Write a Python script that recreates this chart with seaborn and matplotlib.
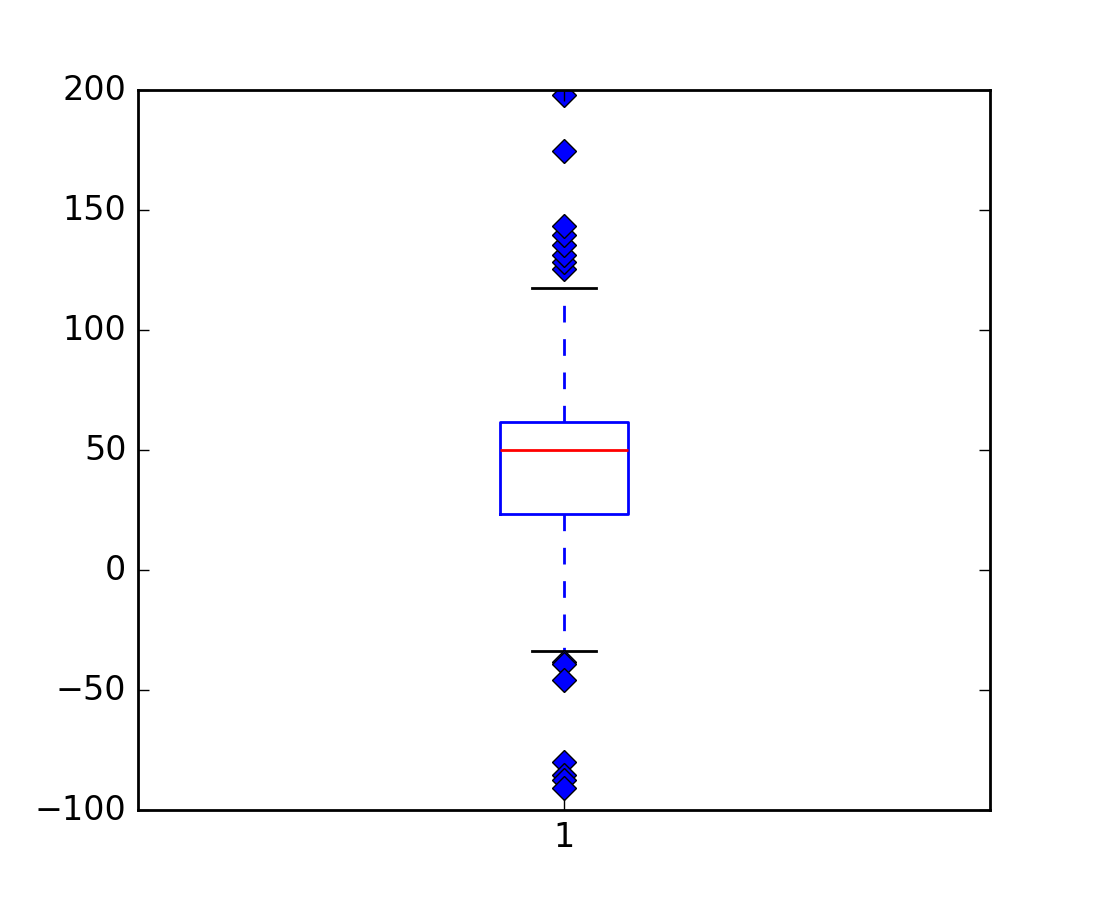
import matplotlib
matplotlib.use('Agg')
import matplotlib.pyplot as plt
import numpy as np
import pandas as pd
import seaborn as sns

# old matplotlib look: ticks inside, thin black frame
plt.style.use('classic')

# values (inner points estimated so the box stats match)
center = [50.0, 50.0, 50.0, 50.0, 50.0, 50.0]
spread = [23.3, 27.1, 31.6, 35.2, 38.9, 42.4, 45.0, 47.3,
          51.8, 53.6, 55.2, 57.1, 58.9, 60.4, 61.7, 84.6,
          -12.0, 8.5]
flier_high = [117.4, 125.3, 128.5, 131.3, 135.4, 139.6, 143.5, 174.6, 197.9]
flier_low = [-33.75, -38.2, -39.0, -45.8, -79.9, -85.4, -87.5, -91.0]

values = center + spread + flier_high + flier_low
df = pd.DataFrame({'group': ['1'] * len(values), 'value': values})

fig, ax = plt.subplots(figsize=(5.5, 4.5))
fig.patch.set_facecolor('white')

sns.boxplot(data=df, x='group', y='value', ax=ax, width=0.15, whis=1.5,
            fill=False, linewidth=1.0, capwidths=0.075,
            boxprops=dict(color='b'),
            medianprops=dict(color='r'),
            whiskerprops=dict(color='b', linestyle='--'),
            capprops=dict(color='k'),
            flierprops=dict(marker='D', markerfacecolor='b',
                            markeredgecolor='k', markersize=6,
                            markeredgewidth=0.5))

ax.set_ylim(-100, 200)
ax.set_yticks(np.arange(-100, 201, 50))
ax.set_xlabel('')
ax.set_ylabel('')
ax.tick_params(direction='in', top=True, right=True)

plt.savefig('out.png', dpi=200, facecolor='white')
